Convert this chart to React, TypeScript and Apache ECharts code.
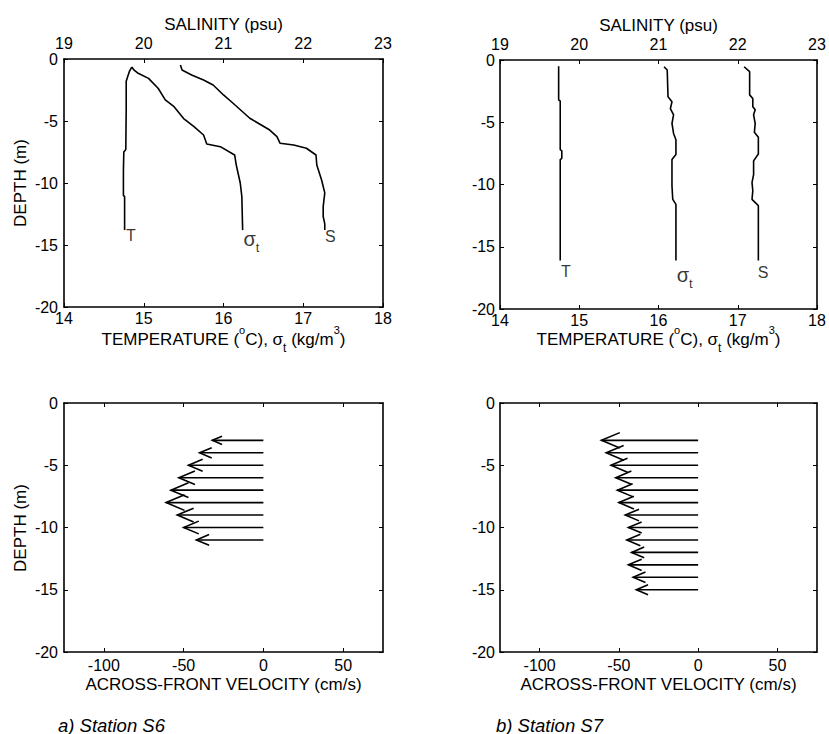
import React, { useEffect, useRef } from "react";
import * as echarts from "echarts";

const FONT = '"Liberation Sans", Arial, Helvetica, sans-serif';

// ---- Axis ranges / ticks ----
const tempRange = [14, 18];
const salRange = [19, 23];
const depthRange = [-20, 0];
const velRange = [-125, 75];
const velTicks = [-100, -50, 0, 50];

// ---- Station S6 profiles: [value, depth] ----
const s6Temp = [
  [14.85, -0.65], [14.82, -1.0], [14.8, -1.4], [14.78, -1.8], [14.78, -4.0],
  [14.775, -7.3], [14.75, -7.5], [14.745, -9.0], [14.745, -11.0], [14.76, -11.1], [14.76, -13.8],
];
const s6Sigma = [
  [14.85, -0.65], [14.88, -0.9], [14.93, -1.15], [15.06, -1.56], [15.18, -2.36], [15.27, -3.3],
  [15.38, -3.85], [15.5, -4.8], [15.63, -5.46], [15.75, -6.13], [15.79, -6.85], [15.96, -7.07],
  [16.14, -7.74], [16.16, -8.55], [16.21, -10.0], [16.23, -11.1], [16.24, -13.8],
];
const s6Sal = [
  [20.46, -0.48], [20.48, -0.89], [20.6, -1.29], [20.75, -1.69], [20.87, -2.1], [21.0, -2.9],
  [21.12, -3.57], [21.33, -4.78], [21.58, -5.73], [21.67, -6.26], [21.71, -6.8], [21.88, -6.94],
  [22.04, -7.2], [22.16, -7.74], [22.17, -8.55], [22.23, -9.76], [22.27, -10.8], [22.25, -11.9],
  [22.25, -12.7], [22.27, -13.3], [22.27, -13.8],
];

// ---- Station S7 profiles: [value, depth] ----
const s7Temp = [
  [14.74, -0.5], [14.74, -3.2], [14.76, -3.3], [14.76, -7.2], [14.78, -7.3], [14.78, -7.9],
  [14.76, -8.0], [14.76, -16.1],
];
const s7Sigma = [
  [16.07, -0.54], [16.11, -0.8], [16.12, -2.95], [16.17, -3.35], [16.15, -3.9], [16.19, -4.4],
  [16.17, -5.1], [16.19, -5.9], [16.22, -6.4], [16.22, -7.6], [16.17, -8.0], [16.17, -10.1],
  [16.18, -11.2], [16.22, -11.6], [16.22, -16.1],
];
const s7Sal = [
  [22.08, -0.54], [22.15, -0.94], [22.15, -2.8], [22.19, -3.1], [22.19, -3.75], [22.22, -4.0],
  [22.2, -4.4], [22.22, -5.1], [22.21, -5.8], [22.26, -6.2], [22.26, -7.55], [22.2, -8.1],
  [22.2, -9.2], [22.18, -9.85], [22.19, -10.5], [22.18, -11.2], [22.26, -11.7], [22.26, -16.1],
];

// ---- Curve label anchors: [value, depth] ----
const s6LabelT = [14.84, -14.2];
const s6LabelSigma = [16.35, -14.5];
const s6LabelS = [22.34, -14.3];
const s7LabelT = [14.83, -16.95];
const s7LabelSigma = [16.33, -17.25];
const s7LabelS = [22.32, -17.1];

// ---- Across-front velocity (cm/s) vs depth (m) ----
const s6VelDepth = [-3, -4, -5, -6, -7, -8, -9, -10, -11];
const s6Vel = [-32, -40, -47, -53, -58, -61, -54, -50, -42];
const s7VelDepth = [-3, -4, -5, -6, -7, -8, -9, -10, -11, -12, -13, -14, -15];
const s7Vel = [-61, -58, -55, -52, -51, -50, -46, -44, -45, -42, -44, -41, -39];

const labelStyle = { color: "#000", fontFamily: FONT, fontSize: 16 };
const lineStyle = { color: "#000", width: 1.6 };

function xAx(grid: number, pos: "top" | "bottom", range: number[], opts: any = {}) {
  const a: any = {
    type: "value",
    gridIndex: grid,
    position: pos,
    min: range[0],
    max: range[1],
    splitLine: { show: false },
    axisLine: { show: true, onZero: false, lineStyle },
    axisTick: { show: true, inside: true, length: 4, lineStyle: { color: "#000", width: 1 } },
    axisLabel: { show: opts.labels !== false, margin: opts.margin ?? 4, ...labelStyle },
  };
  if (opts.interval) a.interval = opts.interval;
  if (opts.custom) {
    a.axisTick.customValues = opts.custom;
    a.axisLabel.customValues = opts.custom;
  }
  return a;
}

function yAx(grid: number, pos: "left" | "right", labels: boolean, margin = 6) {
  return {
    type: "value",
    gridIndex: grid,
    position: pos,
    min: depthRange[0],
    max: depthRange[1],
    interval: 5,
    splitLine: { show: false },
    axisLine: { show: true, onZero: false, lineStyle },
    axisTick: { show: true, inside: true, length: 4, lineStyle: { color: "#000", width: 1 } },
    axisLabel: { show: labels, margin, ...labelStyle },
  };
}

function profile(data: number[][], xi: number, yi: number) {
  return {
    type: "line",
    xAxisIndex: xi,
    yAxisIndex: yi,
    data,
    showSymbol: false,
    symbol: "none",
    lineStyle: { color: "#000", width: 1.6 },
    silent: true,
  };
}

const curveRich = {
  s: { fontSize: 20, fontFamily: FONT, color: "#000", lineHeight: 30, verticalAlign: "middle" },
  t: { fontSize: 13, fontFamily: FONT, color: "#000", lineHeight: 18, verticalAlign: "bottom" },
};

function curveLabel(pos: number[], text: string, xi: number, yi: number) {
  return {
    type: "scatter",
    xAxisIndex: xi,
    yAxisIndex: yi,
    data: [pos],
    symbolSize: 1,
    itemStyle: { color: "rgba(0,0,0,0)" },
    silent: true,
    label: {
      show: true,
      position: "inside",
      formatter: () => text,
      color: "#000",
      fontFamily: FONT,
      fontSize: 16,
      rich: curveRich,
    },
  };
}

function arrows(vel: number[], depth: number[], xi: number, yi: number) {
  return {
    type: "custom",
    xAxisIndex: xi,
    yAxisIndex: yi,
    data: vel.map((v, i) => [v, depth[i]]),
    silent: true,
    renderItem: (_params: any, api: any) => {
      const v = api.value(0);
      const d = api.value(1);
      const a = api.coord([0, d]);
      const b = api.coord([v, d]);
      const len = Math.abs(a[0] - b[0]);
      const hx = 0.19 * len;
      const hy = 0.08 * len;
      const st = { stroke: "#000", lineWidth: 1.6, fill: "none" };
      return {
        type: "group",
        children: [
          { type: "line", shape: { x1: a[0], y1: a[1], x2: b[0], y2: b[1] }, style: st },
          {
            type: "polyline",
            shape: { points: [[b[0] + hx, b[1] - hy], [b[0], b[1]], [b[0] + hx, b[1] + hy]] },
            style: st,
          },
        ],
      };
    },
  };
}

const nameRich = {
  n: { font: `17px ${FONT}`, fill: "#000", lineHeight: 30, verticalAlign: "middle" },
  sup: { font: `11px ${FONT}`, fill: "#000", lineHeight: 20, verticalAlign: "top" },
  sub: { font: `12px ${FONT}`, fill: "#000", lineHeight: 18, verticalAlign: "bottom" },
};

function gText(x: number, y: number, text: string, extra: any = {}) {
  const size = extra.fontSize || 17;
  const fstyle = extra.fontStyle || "normal";
  return {
    type: "text",
    x,
    y,
    rotation: extra.rotation || 0,
    silent: true,
    style: {
      text,
      fill: "#000",
      font: `${fstyle} normal ${size}px ${FONT}`,
      align: extra.align || "center",
      textAlign: extra.align || "center",
      verticalAlign: "middle",
      textVerticalAlign: "middle",
      rich: extra.rich,
    },
  };
}

const tempName = "{n|TEMPERATURE (}{sup|o}{n|C), σ}{sub|t}{n| (kg/m}{sup|3}{n|)}";

export default function App() {
  const ref = useRef<HTMLDivElement>(null);
  useEffect(() => {
    if (!ref.current) return;
    const chart = echarts.init(ref.current, undefined, { renderer: "svg" });
    chart.setOption({
      animation: false,
      backgroundColor: "#fff",
      grid: [
        { left: 64, top: 59, width: 319, height: 248 },
        { left: 500, top: 60, width: 317, height: 249 },
        { left: 64, top: 403, width: 319, height: 249 },
        { left: 500, top: 403, width: 317, height: 249 },
      ],
      xAxis: [
        xAx(0, "bottom", tempRange, { interval: 1, margin: 3 }),
        xAx(0, "top", salRange, { interval: 1, margin: 8 }),
        xAx(1, "bottom", tempRange, { interval: 1, margin: 3 }),
        xAx(1, "top", salRange, { interval: 1, margin: 8 }),
        xAx(2, "bottom", velRange, { custom: velTicks, margin: 5 }),
        xAx(2, "top", velRange, { custom: velTicks, labels: false }),
        xAx(3, "bottom", velRange, { custom: velTicks, margin: 5 }),
        xAx(3, "top", velRange, { custom: velTicks, labels: false }),
      ],
      yAxis: [
        yAx(0, "left", true, 6),
        yAx(0, "right", false),
        yAx(1, "left", true, 5),
        yAx(1, "right", false),
        yAx(2, "left", true, 6),
        yAx(2, "right", false),
        yAx(3, "left", true, 5),
        yAx(3, "right", false),
      ],
      series: [
        profile(s6Temp, 0, 0),
        profile(s6Sigma, 0, 0),
        profile(s6Sal, 1, 0),
        curveLabel(s6LabelT, "T", 0, 0),
        curveLabel(s6LabelSigma, "{s|σ}{t|t}", 0, 0),
        curveLabel(s6LabelS, "S", 1, 0),
        profile(s7Temp, 2, 2),
        profile(s7Sigma, 2, 2),
        profile(s7Sal, 3, 2),
        curveLabel(s7LabelT, "T", 2, 2),
        curveLabel(s7LabelSigma, "{s|σ}{t|t}", 2, 2),
        curveLabel(s7LabelS, "S", 3, 2),
        arrows(s6Vel, s6VelDepth, 4, 4),
        arrows(s7Vel, s7VelDepth, 6, 6),
      ],
      graphic: [
        gText(223.5, 24, "SALINITY (psu)"),
        gText(658.5, 25, "SALINITY (psu)"),
        gText(223.5, 339, tempName, { rich: nameRich }),
        gText(658.5, 339, tempName, { rich: nameRich }),
        gText(223.5, 684, "ACROSS-FRONT VELOCITY (cm/s)"),
        gText(658.5, 684, "ACROSS-FRONT VELOCITY (cm/s)"),
        gText(20, 183, "DEPTH (m)", { rotation: Math.PI / 2 }),
        gText(20, 528, "DEPTH (m)", { rotation: Math.PI / 2 }),
        gText(58, 725, "a) Station S6", { align: "left", fontStyle: "italic", fontSize: 18.5 }),
        gText(496, 725, "b) Station S7", { align: "left", fontStyle: "italic", fontSize: 18.5 }),
      ],
    });
    return () => chart.dispose();
  }, []);
  return (
    <div
      ref={ref}
      style={{ position: "absolute", left: 0, top: 0, width: 829, height: 734 }}
    />
  );
}
